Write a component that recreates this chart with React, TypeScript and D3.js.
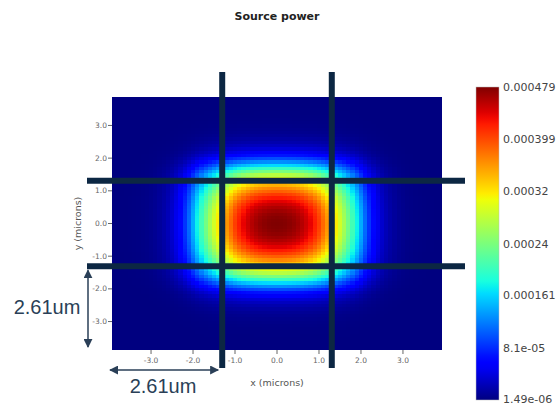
import React from "react";
import * as d3 from "d3";

const TITLE = "Source power";
const X_LABEL = "x (microns)";
const Y_LABEL = "y (microns)";
const X_TICKS = [-3, -2, -1, 0, 1, 2, 3];
const Y_TICKS = [-3, -2, -1, 0, 1, 2, 3];
const CBAR_TICKS = [0.000479, 0.000399, 0.00032, 0.00024, 0.000161, 8.1e-5, 1.49e-6];
const CBAR_LABELS = ["0.000479", "0.000399", "0.00032", "0.00024", "0.000161", "8.1e-05", "1.49e-06"];
const P_MIN = 1.49e-6;
const P_MAX = 0.000479;
const X_DOMAIN = [-3.93, 3.93];
const Y_DOMAIN = [-3.87, 3.87];
const GRID_STEP = 0.1;
// normalised power profile along x (through y=0), at |x| = 0, 0.1, 0.2 ... 3.9 microns
const X_PROFILE = [1.0, 0.999, 0.996, 0.99, 0.982, 0.97, 0.955, 0.935, 0.91, 0.88, 0.845, 0.8, 0.755, 0.71, 0.66, 0.605, 0.55, 0.49, 0.43, 0.365, 0.295, 0.23, 0.175, 0.13, 0.095, 0.068, 0.049, 0.035, 0.025, 0.017, 0.012, 0.008, 0.006, 0.004, 0.003, 0.002, 0.0015, 0.001, 0.0008, 0.0005];
// normalised power profile along y (through x=0), at |y| = 0, 0.1 ... 3.9 microns
const Y_PROFILE = [1.0, 0.998, 0.994, 0.987, 0.975, 0.96, 0.94, 0.915, 0.885, 0.85, 0.81, 0.77, 0.725, 0.68, 0.63, 0.575, 0.5, 0.42, 0.34, 0.265, 0.2, 0.145, 0.105, 0.077, 0.056, 0.04, 0.029, 0.02, 0.014, 0.01, 0.007, 0.005, 0.0035, 0.0025, 0.0018, 0.0012, 0.0008, 0.0006, 0.0004, 0.0003];
const BOUNDARY = [-1.305, 1.305];
const SPAN_LABEL = "2.61um";

const W = 558, H = 406;
const PL = 112, PR = 442, PT = 97, PB = 350;
const CB = { x: 476, w: 23, top: 87, bottom: 400 };

function jet(t: number): string {
  const c = (v: number) => Math.max(0, Math.min(1, v));
  const seg = (pts: number[][]) => {
    for (let i = 0; i < pts.length - 1; i++) {
      const [a, va] = pts[i], [b, vb] = pts[i + 1];
      if (t <= b) return va + ((t - a) / (b - a)) * (vb - va);
    }
    return pts[pts.length - 1][1];
  };
  t = c(t);
  const r = seg([[0, 0], [0.35, 0], [0.66, 1], [0.89, 1], [1, 0.5]]);
  const g = seg([[0, 0], [0.125, 0], [0.375, 1], [0.64, 1], [0.91, 0], [1, 0]]);
  const b = seg([[0, 0.5], [0.11, 1], [0.34, 1], [0.65, 0], [1, 0]]);
  return d3.rgb(r * 255, g * 255, b * 255).formatHex();
}

export default function App() {
  const x = d3.scaleLinear().domain(X_DOMAIN).range([PL, PR]);
  const y = d3.scaleLinear().domain(Y_DOMAIN).range([PB, PT]);
  const c = d3.scaleLinear().domain([P_MIN, P_MAX]).range([CB.bottom, CB.top]);
  const norm = d3.scaleLinear().domain([P_MIN, P_MAX]).range([0, 1]);

  const n = X_PROFILE.length - 1;
  const ysIdx = [...Y_PROFILE.map((_, i) => -i).reverse().slice(0, n), ...Y_PROFILE.map((_, i) => i)];
  const xsIdx = [...X_PROFILE.map((_, i) => -i).reverse().slice(0, n), ...X_PROFILE.map((_, i) => i)];

  const cells: any[] = [];
  xsIdx.forEach((xi) => {
    ysIdx.forEach((yi) => {
      const v = P_MIN + (P_MAX - P_MIN) * X_PROFILE[Math.abs(xi)] * Y_PROFILE[Math.abs(yi)];
      const cx = xi * GRID_STEP, cy = yi * GRID_STEP;
      const x0 = x(cx - GRID_STEP / 2), x1 = x(cx + GRID_STEP / 2);
      const y0 = y(cy + GRID_STEP / 2), y1 = y(cy - GRID_STEP / 2);
      cells.push(
        <rect key={`${xi}_${yi}`} x={x0} y={y0} width={x1 - x0 + 0.6} height={y1 - y0 + 0.6} fill={jet(norm(v))} />
      );
    });
  });

  const stops = d3.range(0, 1.0001, 0.02);
  const lineColor = "#0c2743";
  const annColor = "#2a3f57";
  const tickColor = "#666";
  const font = "'DejaVu Sans', sans-serif";

  return (
    <svg width={W} height={H} style={{ position: "absolute", left: 0, top: 0, background: "#fff" }}>
      <defs>
        <clipPath id="plotclip">
          <rect x={PL} y={PT} width={PR - PL} height={PB - PT} />
        </clipPath>
        <linearGradient id="cbgrad" x1="0" y1="1" x2="0" y2="0">
          {stops.map((s) => (
            <stop key={s} offset={s} stopColor={jet(s)} />
          ))}
        </linearGradient>
        <marker id="ah" viewBox="0 0 10 10" refX="9" refY="5" markerWidth="9" markerHeight="9" markerUnits="userSpaceOnUse" orient="auto-start-reverse">
          <path d="M0,0 L10,5 L0,10 z" fill={annColor} />
        </marker>
      </defs>

      <text x={277} y={20} textAnchor="middle" fontFamily={font} fontWeight="bold" fontSize={11} fill="#222">
        {TITLE}
      </text>

      <g clipPath="url(#plotclip)" shapeRendering="crispEdges">{cells}</g>

      {/* y axis */}
      {Y_TICKS.map((t) => (
        <g key={"y" + t}>
          <line x1={PL - 4} x2={PL} y1={y(t)} y2={y(t)} stroke={tickColor} strokeWidth={1} />
          <text x={PL - 5} y={y(t)} dy="0.35em" textAnchor="end" fontFamily={font} fontSize={7.5} fill={tickColor}>
            {t.toFixed(1)}
          </text>
        </g>
      ))}
      <text transform={`translate(78,${(PT + PB) / 2}) rotate(-90)`} textAnchor="middle" dy="0.35em" fontFamily={font} fontSize={9.5} fill="#555">
        {Y_LABEL}
      </text>

      {/* x axis */}
      {X_TICKS.map((t) => (
        <g key={"x" + t}>
          <line x1={x(t)} x2={x(t)} y1={PB} y2={PB + 4} stroke={tickColor} strokeWidth={1} />
          <text x={x(t)} y={PB + 10} dy="0.35em" textAnchor="middle" fontFamily={font} fontSize={7.5} fill={tickColor}>
            {t.toFixed(1)}
          </text>
        </g>
      ))}
      <text x={(PL + PR) / 2} y={386} textAnchor="middle" fontFamily={font} fontSize={9.5} fill="#555">
        {X_LABEL}
      </text>

      {/* boundary lines */}
      {BOUNDARY.map((b) => (
        <line key={"v" + b} x1={x(b)} x2={x(b)} y1={PT - 25} y2={PB + 18} stroke={lineColor} strokeWidth={6} />
      ))}
      {BOUNDARY.map((b) => (
        <line key={"h" + b} x1={PL - 25} x2={PR + 23} y1={y(b)} y2={y(b)} stroke={lineColor} strokeWidth={6} />
      ))}

      {/* annotations */}
      <line x1={88} x2={88} y1={y(BOUNDARY[0]) + 4} y2={PB - 3} stroke={annColor} strokeWidth={1.5} markerStart="url(#ah)" markerEnd="url(#ah)" />
      <text x={47} y={314} textAnchor="middle" fontFamily="'Liberation Sans', Arial, sans-serif" fontSize={20} fill={annColor}>
        {SPAN_LABEL}
      </text>
      <line x1={PL - 2} x2={x(BOUNDARY[0]) - 4} y1={370} y2={370} stroke={annColor} strokeWidth={1.5} markerStart="url(#ah)" markerEnd="url(#ah)" />
      <text x={163} y={393} textAnchor="middle" fontFamily="'Liberation Sans', Arial, sans-serif" fontSize={20} fill={annColor}>
        {SPAN_LABEL}
      </text>

      {/* colorbar */}
      <rect x={CB.x} y={CB.top} width={CB.w} height={CB.bottom - CB.top} fill="url(#cbgrad)" stroke="#bbb" strokeWidth={0.5} />
      {CBAR_TICKS.map((t, i) => (
        <text key={"c" + i} x={CB.x + CB.w + 4} y={c(t)} dy={i === CBAR_TICKS.length - 1 ? "0.25em" : "0.35em"} fontFamily={font} fontSize={11} fill="#444">
          {CBAR_LABELS[i]}
        </text>
      ))}
    </svg>
  );
}
